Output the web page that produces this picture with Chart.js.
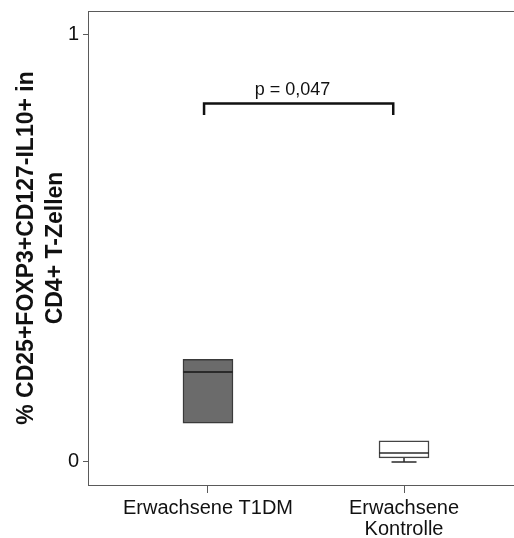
<!DOCTYPE html>
<html>
<head>
<meta charset="utf-8">
<script src="https://cdn.jsdelivr.net/npm/chart.js@4"></script>
<style>
  html, body { margin: 0; padding: 0; background: #fff; overflow: hidden; }
  #wrap { width: 514px; height: 538px; position: relative; }
</style>
</head>
<body>
<div id="wrap"><canvas id="boxChart"></canvas></div>
<script>
// groups and box statistics (fraction of CD4+ T cells)
const groups = ['Erwachsene T1DM', ['Erwachsene', 'Kontrolle']];
const whiskerMin = [0.0905, 0.000];
const quartile1 = [0.0905, 0.0094];
const medians = [0.210, 0.021];
const quartile3 = [0.240, 0.049];
const whiskerMax = [0.240, 0.049];
const yTicks = [0, 1];
const pValueText = 'p = 0,047';

const axisColor = '#5a5a5a';
const lineColor = '#2a2a2a';
const fontFamily = "'Liberation Sans', Arial, sans-serif";

// medians, whiskers, the frame top and the significance bracket
const boxExtras = {
    id: 'boxExtras',
    afterDatasetsDraw(chart) {
        const ctx = chart.ctx;
        const xs = chart.scales.x;
        const ys = chart.scales.y;
        const area = chart.chartArea;
        const half = 25;

        ctx.save();
        ctx.strokeStyle = axisColor;
        ctx.lineWidth = 1;
        ctx.beginPath();
        ctx.moveTo(area.left, Math.round(area.top) + 0.5);
        ctx.lineTo(area.right, Math.round(area.top) + 0.5);
        ctx.stroke();

        groups.forEach((g, i) => {
            const cx = xs.getPixelForValue(i);
            ctx.strokeStyle = lineColor;
            ctx.lineWidth = i === 0 ? 2 : 1.5;
            const my = ys.getPixelForValue(medians[i]);
            ctx.beginPath();
            ctx.moveTo(cx - half, my);
            ctx.lineTo(cx + half, my);
            ctx.stroke();

            ctx.lineWidth = 1.5;
            [[whiskerMin[i], quartile1[i]], [whiskerMax[i], quartile3[i]]].forEach(([end, edge]) => {
                if (Math.abs(end - edge) < 1e-6) return;
                const y1 = ys.getPixelForValue(edge);
                const y2 = ys.getPixelForValue(end);
                ctx.beginPath();
                ctx.moveTo(cx, y1);
                ctx.lineTo(cx, y2);
                ctx.moveTo(cx - half / 2, y2);
                ctx.lineTo(cx + half / 2, y2);
                ctx.stroke();
            });
        });

        // bracket between the two groups
        const bx1 = xs.getPixelForValue(-0.02);
        const bx2 = xs.getPixelForValue(0.945);
        const by = ys.getPixelForValue(0.838);
        const bd = ys.getPixelForValue(0.811);
        ctx.strokeStyle = '#111';
        ctx.lineWidth = 2.5;
        ctx.beginPath();
        ctx.moveTo(bx1, bd);
        ctx.lineTo(bx1, by);
        ctx.lineTo(bx2, by);
        ctx.lineTo(bx2, bd);
        ctx.stroke();

        ctx.fillStyle = '#111';
        ctx.font = '18px ' + fontFamily;
        ctx.textAlign = 'center';
        ctx.textBaseline = 'alphabetic';
        ctx.fillText(pValueText, xs.getPixelForValue(0.431), ys.getPixelForValue(0.857));
        ctx.restore();
    }
};

const ctx = document.getElementById('boxChart').getContext('2d');
new Chart(ctx, {
    type: 'bar',
    data: {
        datasets: [{
            data: groups.map((g, i) => ({ x: i, y: [quartile1[i], quartile3[i]] })),
            backgroundColor: ['#6b6b6b', '#ffffff'],
            borderColor: ['#3a3a3a', '#444444'],
            borderWidth: 1.5,
            borderSkipped: false,
            barThickness: 50
        }]
    },
    options: {
        responsive: true,
        maintainAspectRatio: false,
        animation: false,
        layout: { padding: { top: 11, left: 0, right: 0, bottom: 0 } },
        plugins: {
            legend: { display: false },
            tooltip: { enabled: false }
        },
        scales: {
            x: {
                type: 'linear',
                offset: false,
                bounds: 'ticks',
                min: -0.612,
                max: 1.561,
                afterBuildTicks: axis => { axis.ticks = groups.map((g, i) => ({ value: i })); },
                afterFit: axis => { axis.height = 53; axis.paddingLeft = 0; axis.paddingRight = 0; },
                ticks: {
                    callback: v => groups[v],
                    color: '#111',
                    padding: 5,
                    maxRotation: 0,
                    autoSkip: false,
                    font: { family: fontFamily, size: 20, lineHeight: 1.05 }
                },
                grid: { offset: false, drawOnChartArea: false, drawTicks: true, tickLength: 8, color: axisColor },
                border: { display: true, color: axisColor, width: 1 }
            },
            y: {
                min: -0.054,
                max: 1.054,
                afterBuildTicks: axis => { axis.ticks = yTicks.map(v => ({ value: v })); },
                afterFit: axis => { axis.width = 88; axis.paddingTop = 0; axis.paddingBottom = 0; },
                ticks: {
                    callback: v => String(v),
                    color: '#111',
                    padding: 4,
                    font: { family: fontFamily, size: 20 }
                },
                grid: { drawOnChartArea: false, drawTicks: true, tickLength: 5, color: axisColor },
                border: { display: true, color: axisColor, width: 1 },
                title: {
                    display: true,
                    text: ['% CD25+FOXP3+CD127-IL10+ in', 'CD4+ T-Zellen'],
                    color: '#111',
                    padding: { top: 12.5, bottom: 0 },
                    font: { family: fontFamily, size: 23, weight: 'bold', lineHeight: 1.26 }
                }
            }
        }
    },
    plugins: [boxExtras]
});
</script>
</body>
</html>
